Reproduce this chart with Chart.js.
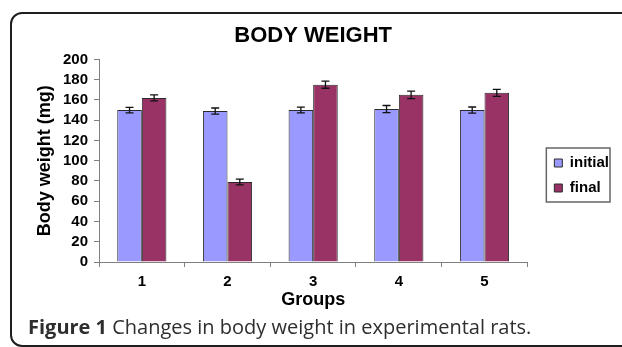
<!DOCTYPE html>
<html>
<head>
<meta charset="utf-8">
<script src="https://cdn.jsdelivr.net/npm/chart.js@4/dist/chart.umd.min.js"></script>
<style>
  body { margin: 0; background: #fff; }
  #frame {
    position: absolute; left: 10px; top: 12px; width: 660px; height: 331px;
    border: 2px solid #1e1e1e; border-radius: 12px;
  }
  #wrap { position: absolute; left: 0; top: 0; width: 622px; height: 347px; }
  #caption {
    position: absolute; left: 28px; top: 317px; line-height: 20px;
    font-family: "Open Sans", sans-serif; font-size: 20px; color: #2e2e2e;
    white-space: nowrap;
  }
</style>
</head>
<body>
<div id="frame"></div>
<div id="wrap"><canvas id="bodyWeightChart"></canvas></div>
<div id="caption"><b>Figure 1</b> Changes in body weight in experimental rats.</div>
<script>
// values
const groups = ['1', '2', '3', '4', '5'];
const initialWeight = [150, 149, 150, 151, 150];
const finalWeight = [162, 79, 175, 165, 167];
const initialError = [2.7, 3, 2.8, 3.5, 3];
const finalError = [3, 2.8, 3.5, 3.7, 3.5];

const FONT = "'Liberation Sans', Arial, sans-serif";
const AXIS_GREY = '#808080';

// error bars drawn from the y scale
const errorBars = {
  id: 'errorBars',
  afterDatasetsDraw(chart) {
    const ctx = chart.ctx;
    const y = chart.scales.y;
    chart.data.datasets.forEach((ds, i) => {
      chart.getDatasetMeta(i).data.forEach((bar, j) => {
        const v = ds.data[j], e = ds.errors[j];
        const top = y.getPixelForValue(v + e);
        const bot = y.getPixelForValue(v - e);
        ctx.save();
        ctx.strokeStyle = '#111';
        ctx.lineWidth = 1.3;
        ctx.beginPath();
        ctx.moveTo(bar.x, top); ctx.lineTo(bar.x, bot);
        ctx.moveTo(bar.x - 4, top); ctx.lineTo(bar.x + 4, top);
        ctx.moveTo(bar.x - 4, bot); ctx.lineTo(bar.x + 4, bot);
        ctx.stroke();
        ctx.restore();
      });
    });
  }
};

// box round the legend items
const legendFrame = {
  id: 'legendFrame',
  afterDraw(chart) {
    const hb = chart.legend.legendHitBoxes;
    if (!hb || !hb.length) return;
    const left = Math.min(...hb.map(b => b.left)) - 8;
    const right = Math.max(...hb.map(b => b.left + b.width)) + 1;
    const top = Math.min(...hb.map(b => b.top)) - 7.5;
    const bottom = Math.max(...hb.map(b => b.top + b.height)) + 6.5;
    const ctx = chart.ctx;
    ctx.save();
    ctx.strokeStyle = '#666';
    ctx.lineWidth = 1.5;
    ctx.strokeRect(left, top, right - left, bottom - top);
    ctx.restore();
  }
};

const data = {
  labels: groups,
  datasets: [{
    label: 'initial',
    data: initialWeight,
    errors: initialError,
    backgroundColor: '#9999ff',
    borderColor: '#2a2a2a',
    borderWidth: 1
  }, {
    label: 'final',
    data: finalWeight,
    errors: finalError,
    backgroundColor: '#993366',
    borderColor: '#2a2a2a',
    borderWidth: 1
  }]
};

new Chart(document.getElementById('bodyWeightChart'), {
  type: 'bar',
  data: data,
  plugins: [errorBars, legendFrame],
  options: {
    responsive: true,
    maintainAspectRatio: false,
    animation: false,
    datasets: { bar: { categoryPercentage: 0.574, barPercentage: 1 } },
    layout: { padding: { left: 20, top: 12, right: 3, bottom: 8 } },
    plugins: {
      tooltip: { enabled: false },
      title: {
        display: true,
        text: 'BODY WEIGHT',
        fullSize: false,
        color: '#000',
        font: { family: FONT, size: 22, weight: 'bold' },
        padding: { top: 11, bottom: 10 }
      },
      legend: {
        position: 'right',
        labels: {
          color: '#000',
          font: { family: FONT, size: 15, weight: 'bold' },
          boxWidth: 8,
          boxHeight: 8,
          padding: 10
        }
      }
    },
    scales: {
      x: {
        grid: { display: true, drawOnChartArea: false, color: AXIS_GREY, tickLength: 5 },
        border: { color: AXIS_GREY, width: 1 },
        ticks: { color: '#000', font: { family: FONT, size: 15, weight: 'bold' }, padding: 6 },
        title: {
          display: true,
          text: 'Groups',
          color: '#000',
          font: { family: FONT, size: 18, weight: 'bold' },
          padding: { top: 0, bottom: 28 }
        },
        afterFit: s => { s.height = 77; }
      },
      y: {
        min: 0,
        max: 200,
        ticks: {
          stepSize: 20,
          autoSkip: false,
          color: '#000',
          font: { family: FONT, size: 15, weight: 'bold' },
          padding: 6
        },
        grid: { display: true, drawOnChartArea: false, color: AXIS_GREY, tickLength: 5 },
        border: { color: AXIS_GREY, width: 1 },
        title: {
          display: true,
          text: 'Body weight (mg)',
          color: '#000',
          font: { family: FONT, size: 18, weight: 'bold' },
          padding: { top: 14, bottom: 0 }
        },
        afterFit: s => { s.width = 79; }
      },
      gap: {
        type: 'linear',
        position: 'right',
        grid: { display: false },
        border: { display: false },
        ticks: { display: false },
        afterFit: s => { s.width = 17; }
      }
    }
  }
});
</script>
</body>
</html>
